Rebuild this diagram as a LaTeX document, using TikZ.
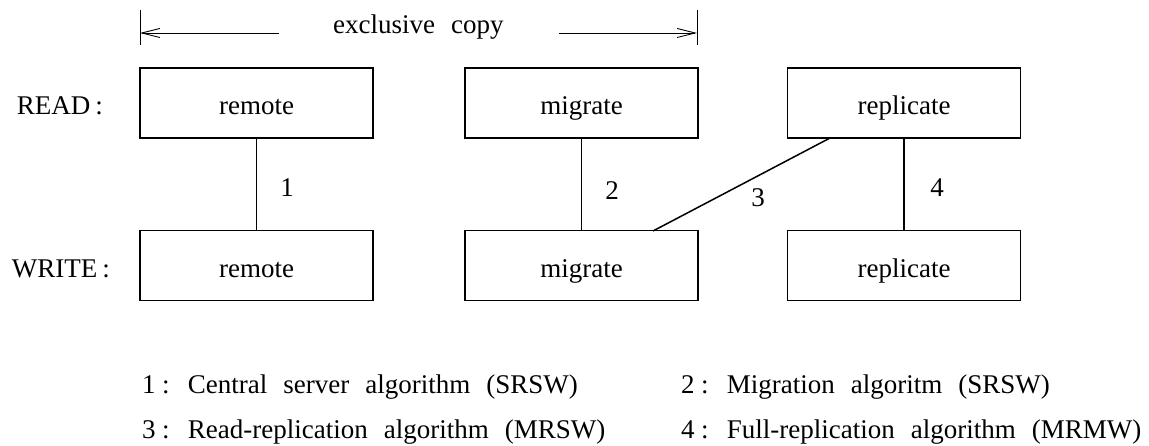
\documentclass[tikz,border=0pt]{standalone}
\usepackage{fontspec}
\setmainfont{Liberation Serif}
\usetikzlibrary{arrows.meta}
\newcommand{\widesp}{\spaceskip=16pt\relax}
\begin{document}
\begin{tikzpicture}[x=1pt,y=-1pt,
  font=\fontsize{27}{32}\selectfont,
  box/.style={draw,line width=1.6pt,minimum width=233pt,minimum height=70pt,inner sep=0pt,
              text height=24pt,text depth=0pt},
  conn/.style={line width=1.5pt},
  lbl/.style={inner sep=0pt,anchor=base},
  leg/.style={inner sep=0pt,anchor=base west},
  dim/.style={line width=0.9pt,-{Straight Barb[length=18pt,width=9pt,line width=0.9pt]}}]
\useasboundingbox (0,0) rectangle (1149,446);
% boxes
\node[box] (rr) at (256.5,103) {remote};
\node[box] (wr) at (256.5,265.5) {remote};
\node[box] (rm) at (581.5,103) {migrate};
\node[box] (wm) at (581.5,265.5) {migrate};
\node[box] (rp) at (904,103) {replicate};
\node[box] (wp) at (904,265.5) {replicate};
% row labels
\node[lbl,anchor=base east] (read) at (103,115) {READ\kern5pt:};
\node[lbl,anchor=base east] (write) at (110,278) {WRITE\kern5pt:};
% connectors
\draw[conn] (rr.south) -- (wr.north);
\draw[conn] (rm.south) -- (wm.north);
\draw[conn] (rp.south) -- (wp.north);
\coordinate (c3a) at (653,231);
\coordinate (c3b) at (830,138);
\draw[conn] (c3a) -- (c3b);
\node[lbl] (n1) at (287,197) {1};
\node[lbl] (n2) at (612,200) {2};
\node[lbl] (n3) at (758,207) {3};
\node[lbl] (n4) at (937,197) {4};
% exclusive copy
\coordinate (bl1) at (140,10);
\coordinate (bl2) at (140,45);
\coordinate (br1) at (697,10);
\coordinate (br2) at (697,45);
\draw[line width=0.9pt] (bl1) -- (bl2);
\draw[line width=0.9pt] (br1) -- (br2);
\coordinate (al) at (279,33);
\coordinate (ar) at (559,33);
\coordinate (alt) at (140,33);
\coordinate (art) at (697,33);
\draw[dim] (al) -- (alt);
\draw[dim] (ar) -- (art);
\node[lbl,anchor=base west] (ex) at (333,34) {\widesp exclusive copy};
% legend
\node[leg] (l1) at (142,393) {\widesp 1\kern6.5pt: Central server algorithm (SRSW)};
\node[leg] (l2) at (681,393) {\widesp 2\kern6.5pt: Migration algoritm (SRSW)};
\node[leg] (l3) at (142,438) {\widesp 3\kern6.5pt: Read-replication algorithm (MRSW)};
\node[leg] (l4) at (681,438) {\widesp 4\kern6.5pt: Full-replication algorithm (MRMW)};
\end{tikzpicture}
\end{document}
